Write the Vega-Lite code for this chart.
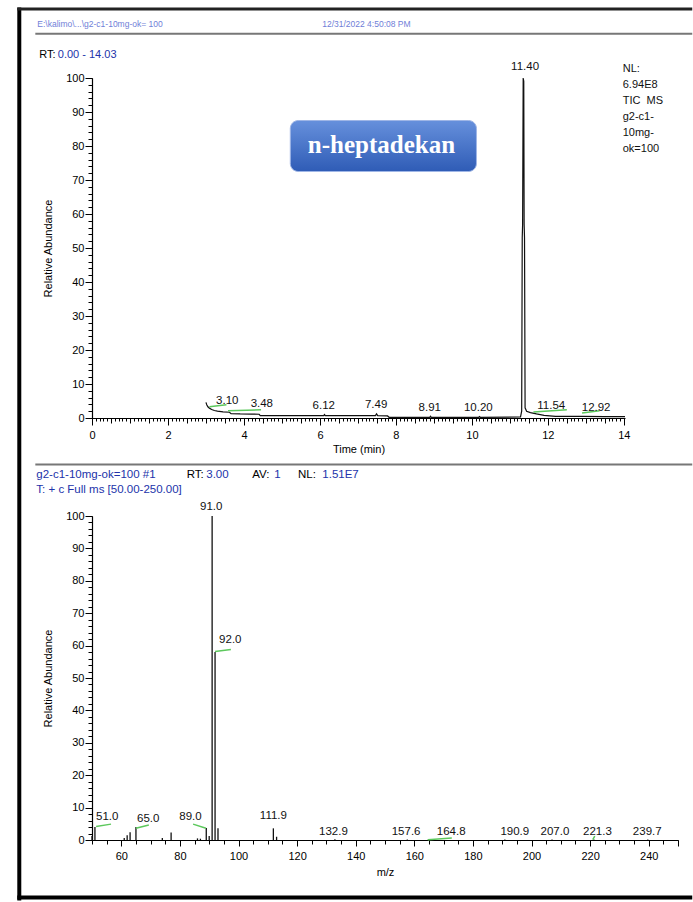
{
  "$schema": "https://vega.github.io/schema/vega-lite/v6.json",
  "background": "white",
  "padding": {"left": 15, "top": 5, "right": 0, "bottom": 1},
  "bounds": "flush",
  "spacing": 98,
  "config": {
    "view": {"stroke": null},
    "font": "Liberation Sans",
    "axis": {
      "domainColor": "#000", "tickColor": "#000", "labelColor": "#000", "titleColor": "#000",
      "labelFont": "Liberation Sans", "titleFont": "Liberation Sans",
      "labelFontSize": 11, "titleFontSize": 11, "titleFontWeight": "normal",
      "grid": false, "tickWidth": 1, "domainWidth": 1.2, "labelFlush": false
    }
  },
  "datasets": {
    "one": [{}],
    "trace": [
      {"rt": 3.00, "ab": 4.6}, {"rt": 3.02, "ab": 3.9}, {"rt": 3.05, "ab": 3.3}, {"rt": 3.09, "ab": 2.9},
      {"rt": 3.15, "ab": 2.5}, {"rt": 3.22, "ab": 2.2}, {"rt": 3.30, "ab": 2.0}, {"rt": 3.45, "ab": 1.8},
      {"rt": 3.62, "ab": 1.7}, {"rt": 3.66, "ab": 1.3}, {"rt": 3.90, "ab": 1.2}, {"rt": 4.20, "ab": 1.15},
      {"rt": 4.40, "ab": 1.1}, {"rt": 4.43, "ab": 0.7}, {"rt": 5.50, "ab": 0.7}, {"rt": 6.10, "ab": 0.7},
      {"rt": 6.12, "ab": 1.0}, {"rt": 6.14, "ab": 0.7}, {"rt": 7.46, "ab": 0.7}, {"rt": 7.49, "ab": 1.2},
      {"rt": 7.52, "ab": 0.7}, {"rt": 7.78, "ab": 0.6}, {"rt": 7.82, "ab": 0.2}, {"rt": 8.89, "ab": 0.2},
      {"rt": 8.91, "ab": 0.5}, {"rt": 8.93, "ab": 0.2}, {"rt": 10.18, "ab": 0.2}, {"rt": 10.20, "ab": 0.4},
      {"rt": 10.22, "ab": 0.2}, {"rt": 11.28, "ab": 0.3}, {"rt": 11.31, "ab": 2.0}, {"rt": 11.325, "ab": 53},
      {"rt": 11.335, "ab": 57}, {"rt": 11.35, "ab": 100}, {"rt": 11.365, "ab": 99}, {"rt": 11.375, "ab": 57},
      {"rt": 11.385, "ab": 53}, {"rt": 11.40, "ab": 3.0}, {"rt": 11.44, "ab": 2.0}, {"rt": 11.54, "ab": 1.6},
      {"rt": 11.70, "ab": 1.2}, {"rt": 11.90, "ab": 0.8}, {"rt": 12.20, "ab": 0.5}, {"rt": 12.92, "ab": 0.5},
      {"rt": 13.50, "ab": 0.4}, {"rt": 14.03, "ab": 0.4}
    ],
    "tpeaks": [
      {"rt": 3.10, "lab": "3.10", "lx": 3.56, "ly": 5.0},
      {"rt": 3.48, "lab": "3.48", "lx": 4.47, "ly": 4.0},
      {"rt": 6.12, "lab": "6.12", "lx": 6.10, "ly": 3.5},
      {"rt": 7.49, "lab": "7.49", "lx": 7.48, "ly": 3.8},
      {"rt": 8.91, "lab": "8.91", "lx": 8.89, "ly": 2.8},
      {"rt": 10.20, "lab": "10.20", "lx": 10.17, "ly": 2.8},
      {"rt": 11.40, "lab": "11.40", "lx": 11.40, "ly": 103.1},
      {"rt": 11.54, "lab": "11.54", "lx": 12.09, "ly": 3.5},
      {"rt": 12.92, "lab": "12.92", "lx": 13.27, "ly": 2.8}
    ],
    "tgreen": [
      {"x1": 3.09, "y1": 3.3, "x2": 3.54, "y2": 3.9},
      {"x1": 3.58, "y1": 2.1, "x2": 4.45, "y2": 2.4},
      {"x1": 11.62, "y1": 1.8, "x2": 12.5, "y2": 2.4},
      {"x1": 12.9, "y1": 1.5, "x2": 13.36, "y2": 2.1}
    ],
    "spec": [
      {"mz": 50.0, "ab": 1.2}, {"mz": 51.0, "ab": 4.0}, {"mz": 61.0, "ab": 0.6}, {"mz": 62.0, "ab": 1.5},
      {"mz": 63.0, "ab": 2.4}, {"mz": 65.0, "ab": 4.0}, {"mz": 74.0, "ab": 0.6}, {"mz": 77.0, "ab": 2.3},
      {"mz": 86.0, "ab": 0.5}, {"mz": 87.0, "ab": 0.4}, {"mz": 89.0, "ab": 3.7}, {"mz": 90.0, "ab": 1.2},
      {"mz": 91.0, "ab": 100}, {"mz": 92.0, "ab": 58}, {"mz": 93.0, "ab": 3.6}, {"mz": 111.9, "ab": 3.6},
      {"mz": 113.0, "ab": 1.0}, {"mz": 132.9, "ab": 0.2}, {"mz": 157.6, "ab": 0.15}, {"mz": 164.8, "ab": 0.15},
      {"mz": 190.9, "ab": 0.15}, {"mz": 207.0, "ab": 0.15}, {"mz": 221.3, "ab": 0.15}, {"mz": 239.7, "ab": 0.15}
    ],
    "speaks": [
      {"mz": 51.0, "lab": "51.0", "lx": 55.2, "ly": 7.0},
      {"mz": 65.0, "lab": "65.0", "lx": 69.2, "ly": 6.6},
      {"mz": 89.0, "lab": "89.0", "lx": 83.6, "ly": 7.0},
      {"mz": 91.0, "lab": "91.0", "lx": 90.7, "ly": 102.7},
      {"mz": 92.0, "lab": "92.0", "lx": 97.2, "ly": 61.6},
      {"mz": 111.9, "lab": "111.9", "lx": 111.9, "ly": 7.3},
      {"mz": 132.9, "lab": "132.9", "lx": 132.4, "ly": 2.4},
      {"mz": 157.6, "lab": "157.6", "lx": 157.2, "ly": 2.4},
      {"mz": 164.8, "lab": "164.8", "lx": 172.6, "ly": 2.4},
      {"mz": 190.9, "lab": "190.9", "lx": 194.3, "ly": 2.4},
      {"mz": 207.0, "lab": "207.0", "lx": 208.0, "ly": 2.4},
      {"mz": 221.3, "lab": "221.3", "lx": 222.5, "ly": 2.4},
      {"mz": 239.7, "lab": "239.7", "lx": 239.5, "ly": 2.4}
    ],
    "sgreen": [
      {"x1": 51.4, "y1": 4.2, "x2": 56.5, "y2": 4.9},
      {"x1": 65.0, "y1": 3.6, "x2": 69.4, "y2": 4.6},
      {"x1": 84.5, "y1": 4.9, "x2": 88.9, "y2": 3.6},
      {"x1": 92.0, "y1": 58.2, "x2": 97.4, "y2": 58.8},
      {"x1": 164.6, "y1": 0.1, "x2": 172.8, "y2": 0.6},
      {"x1": 220.9, "y1": 0.1, "x2": 221.6, "y2": 1.2}
    ]
  },
  "vconcat": [
    {
      "width": 533,
      "height": 340,
      "resolve": {"axis": {"x": "independent", "y": "independent"}},
      "layer": [
        {
          "data": {"name": "trace"},
          "mark": {"type": "line", "stroke": "#111", "strokeWidth": 1.2},
          "encoding": {
            "x": {"field": "rt", "type": "quantitative", "scale": {"domain": [0, 14.03], "nice": false},
              "axis": {"orient": "bottom", "values": [0, 2, 4, 6, 8, 10, 12, 14], "tickSize": 7, "labelPadding": 4, "title": "Time (min)", "titlePadding": 3}},
            "y": {"field": "ab", "type": "quantitative", "scale": {"domain": [0, 100], "nice": false},
              "axis": {"orient": "left", "values": [0, 10, 20, 30, 40, 50, 60, 70, 80, 90, 100], "tickSize": 7, "labelPadding": 1, "title": "Relative Abundance", "titlePadding": 12}}
          }
        },
        {
          "data": {"name": "tgreen"},
          "mark": {"type": "rule", "stroke": "#5cc85c", "strokeWidth": 1.5},
          "encoding": {
            "x": {"field": "x1", "type": "quantitative",
              "axis": {"orient": "bottom", "values": [0, 0.5, 1, 1.5, 2, 2.5, 3, 3.5, 4, 4.5, 5, 5.5, 6, 6.5, 7, 7.5, 8, 8.5, 9, 9.5, 10, 10.5, 11, 11.5, 12, 12.5, 13, 13.5, 14], "tickSize": 5, "labels": false, "domain": false, "title": null}},
            "x2": {"field": "x2"},
            "y": {"field": "y1", "type": "quantitative",
              "axis": {"orient": "left", "values": [0, 2, 4, 6, 8, 10, 12, 14, 16, 18, 20, 22, 24, 26, 28, 30, 32, 34, 36, 38, 40, 42, 44, 46, 48, 50, 52, 54, 56, 58, 60, 62, 64, 66, 68, 70, 72, 74, 76, 78, 80, 82, 84, 86, 88, 90, 92, 94, 96, 98, 100], "tickSize": 4, "labels": false, "domain": false, "title": null}},
            "y2": {"field": "y2"}
          }
        },
        {
          "data": {"name": "tpeaks"},
          "mark": {"type": "text", "fontSize": 11.5, "color": "#111", "baseline": "middle", "align": "center"},
          "encoding": {
            "x": {"field": "lx", "type": "quantitative",
              "axis": {"orient": "bottom", "values": [0, 0.1, 0.2, 0.3, 0.4, 0.5, 0.6, 0.7, 0.8, 0.9, 1, 1.1, 1.2, 1.3, 1.4, 1.5, 1.6, 1.7, 1.8, 1.9, 2, 2.1, 2.2, 2.3, 2.4, 2.5, 2.6, 2.7, 2.8, 2.9, 3, 3.1, 3.2, 3.3, 3.4, 3.5, 3.6, 3.7, 3.8, 3.9, 4, 4.1, 4.2, 4.3, 4.4, 4.5, 4.6, 4.7, 4.8, 4.9, 5, 5.1, 5.2, 5.3, 5.4, 5.5, 5.6, 5.7, 5.8, 5.9, 6, 6.1, 6.2, 6.3, 6.4, 6.5, 6.6, 6.7, 6.8, 6.9, 7, 7.1, 7.2, 7.3, 7.4, 7.5, 7.6, 7.7, 7.8, 7.9, 8, 8.1, 8.2, 8.3, 8.4, 8.5, 8.6, 8.7, 8.8, 8.9, 9, 9.1, 9.2, 9.3, 9.4, 9.5, 9.6, 9.7, 9.8, 9.9, 10, 10.1, 10.2, 10.3, 10.4, 10.5, 10.6, 10.7, 10.8, 10.9, 11, 11.1, 11.2, 11.3, 11.4, 11.5, 11.6, 11.7, 11.8, 11.9, 12, 12.1, 12.2, 12.3, 12.4, 12.5, 12.6, 12.7, 12.8, 12.9, 13, 13.1, 13.2, 13.3, 13.4, 13.5, 13.6, 13.7, 13.8, 13.9, 14], "tickSize": 3, "labels": false, "domain": false, "title": null}},
            "y": {"field": "ly", "type": "quantitative", "axis": null},
            "text": {"field": "lab"}
          }
        },
        {
          "data": {"name": "one"},
          "mark": {"type": "rule", "stroke": "#000", "strokeWidth": 4},
          "encoding": {"x": {"datum": -1.914, "type": "quantitative", "axis": null}, "y": {"datum": 120.7, "type": "quantitative", "axis": null}, "y2": {"datum": -141.9}}
        },
        {
          "data": {"name": "one"},
          "mark": {"type": "rule", "stroke": "#222", "strokeWidth": 3},
          "encoding": {"x": {"datum": -1.967, "type": "quantitative", "axis": null}, "x2": {"datum": 15.8}, "y": {"datum": 120.26, "type": "quantitative", "axis": null}}
        },
        {
          "data": {"name": "one"},
          "mark": {"type": "rule", "stroke": "#000", "strokeWidth": 4},
          "encoding": {"x": {"datum": -1.967, "type": "quantitative", "axis": null}, "x2": {"datum": 15.8}, "y": {"datum": -141.0, "type": "quantitative", "axis": null}}
        },
        {
          "data": {"name": "one"},
          "mark": {"type": "rule", "stroke": "#777", "strokeWidth": 2},
          "encoding": {"x": {"datum": -1.492, "type": "quantitative", "axis": null}, "x2": {"datum": 15.8}, "y": {"datum": 113.0, "type": "quantitative", "axis": null}}
        },
        {
          "data": {"name": "one"},
          "mark": {"type": "rule", "stroke": "#777", "strokeWidth": 2},
          "encoding": {"x": {"datum": -1.492, "type": "quantitative", "axis": null}, "x2": {"datum": 15.8}, "y": {"datum": -13.7, "type": "quantitative", "axis": null}}
        },
        {
          "data": {"name": "one"},
          "mark": {"type": "text", "text": "E:\\kalimo\\...\\g2-c1-10mg-ok= 100", "fontSize": 8.5, "color": "#6f80d8", "align": "left", "baseline": "middle"},
          "encoding": {"x": {"datum": -1.44, "type": "quantitative", "axis": null}, "y": {"datum": 115.8, "type": "quantitative", "axis": null}}
        },
        {
          "data": {"name": "one"},
          "mark": {"type": "text", "text": "12/31/2022 4:50:08 PM", "fontSize": 8.5, "color": "#6f80d8", "align": "left", "baseline": "middle"},
          "encoding": {"x": {"datum": 6.06, "type": "quantitative", "axis": null}, "y": {"datum": 115.8, "type": "quantitative", "axis": null}}
        },
        {
          "data": {"name": "one"},
          "mark": {"type": "text", "text": "RT:", "fontSize": 11, "color": "#000", "align": "left", "baseline": "middle"},
          "encoding": {"x": {"datum": -1.39, "type": "quantitative", "axis": null}, "y": {"datum": 106.9, "type": "quantitative", "axis": null}}
        },
        {
          "data": {"name": "one"},
          "mark": {"type": "text", "text": "0.00 - 14.03", "fontSize": 11, "color": "#2233aa", "align": "left", "baseline": "middle"},
          "encoding": {"x": {"datum": -0.9, "type": "quantitative", "axis": null}, "y": {"datum": 106.9, "type": "quantitative", "axis": null}}
        },
        {
          "data": {"name": "one"},
          "mark": {"type": "text", "text": ["NL:", "6.94E8", "TIC\u00a0\u00a0MS", "g2-c1-", "10mg-", "ok=100"], "fontSize": 11, "lineHeight": 16, "color": "#111", "align": "left", "baseline": "top"},
          "encoding": {"x": {"datum": 13.97, "type": "quantitative", "axis": null}, "y": {"datum": 104.4, "type": "quantitative", "axis": null}}
        },
        {
          "data": {"name": "one"},
          "mark": {"type": "rect", "cornerRadius": 8, "stroke": "#9fb6e6", "strokeWidth": 1,
            "fill": {"gradient": "linear", "x1": 0, "y1": 0, "x2": 0, "y2": 1, "stops": [{"offset": 0, "color": "#6690dc"}, {"offset": 1, "color": "#2f5cb6"}]}},
          "encoding": {"x": {"datum": 5.22, "type": "quantitative", "axis": null}, "x2": {"datum": 10.12}, "y": {"datum": 87.5, "type": "quantitative", "axis": null}, "y2": {"datum": 72.5}}
        },
        {
          "data": {"name": "one"},
          "mark": {"type": "text", "text": "n-heptadekan", "font": "Liberation Serif", "fontWeight": "bold", "fontSize": 25, "color": "#ffffff", "align": "center", "baseline": "middle"},
          "encoding": {"x": {"datum": 7.62, "type": "quantitative", "axis": null}, "y": {"datum": 80.2, "type": "quantitative", "axis": null}}
        }
      ]
    },
    {
      "width": 586,
      "height": 324,
      "resolve": {"axis": {"x": "independent", "y": "independent"}},
      "layer": [
        {
          "data": {"name": "spec"},
          "mark": {"type": "rule", "stroke": "#111", "strokeWidth": 1.3},
          "encoding": {
            "x": {"field": "mz", "type": "quantitative", "scale": {"domain": [50, 250], "nice": false},
              "axis": {"orient": "bottom", "values": [60, 80, 100, 120, 140, 160, 180, 200, 220, 240, 250], "labelExpr": "datum.value == 250 ? '' : datum.label", "tickSize": 6, "labelPadding": 4, "title": "m/z", "titlePadding": 5}},
            "y": {"field": "ab", "type": "quantitative", "scale": {"domain": [0, 100], "nice": false},
              "axis": {"orient": "left", "values": [0, 10, 20, 30, 40, 50, 60, 70, 80, 90, 100], "tickSize": 7, "labelPadding": 1, "title": "Relative Abundance", "titlePadding": 12}},
            "y2": {"datum": 0}
          }
        },
        {
          "data": {"name": "sgreen"},
          "mark": {"type": "rule", "stroke": "#5cc85c", "strokeWidth": 1.5},
          "encoding": {
            "x": {"field": "x1", "type": "quantitative",
              "axis": {"orient": "bottom", "values": [50, 55, 60, 65, 70, 75, 80, 85, 90, 95, 100, 105, 110, 115, 120, 125, 130, 135, 140, 145, 150, 155, 160, 165, 170, 175, 180, 185, 190, 195, 200, 205, 210, 215, 220, 225, 230, 235, 240, 245, 250], "tickSize": 4, "labels": false, "domain": false, "title": null}},
            "x2": {"field": "x2"},
            "y": {"field": "y1", "type": "quantitative",
              "axis": {"orient": "left", "values": [0, 2, 4, 6, 8, 10, 12, 14, 16, 18, 20, 22, 24, 26, 28, 30, 32, 34, 36, 38, 40, 42, 44, 46, 48, 50, 52, 54, 56, 58, 60, 62, 64, 66, 68, 70, 72, 74, 76, 78, 80, 82, 84, 86, 88, 90, 92, 94, 96, 98, 100], "tickSize": 4, "labels": false, "domain": false, "title": null}},
            "y2": {"field": "y2"}
          }
        },
        {
          "data": {"name": "speaks"},
          "mark": {"type": "text", "fontSize": 11.5, "color": "#111", "baseline": "middle", "align": "center"},
          "encoding": {
            "x": {"field": "lx", "type": "quantitative", "axis": null},
            "y": {"field": "ly", "type": "quantitative", "axis": null},
            "text": {"field": "lab"}
          }
        },
        {
          "data": {"name": "one"},
          "mark": {"type": "text", "text": "g2-c1-10mg-ok=100 #1", "fontSize": 11.5, "color": "#2233aa", "align": "left", "baseline": "middle"},
          "encoding": {"x": {"datum": 31.0, "type": "quantitative", "axis": null}, "y": {"datum": 112.6, "type": "quantitative", "axis": null}}
        },
        {
          "data": {"name": "one"},
          "mark": {"type": "text", "text": "RT:", "fontSize": 11.5, "color": "#000", "align": "left", "baseline": "middle"},
          "encoding": {"x": {"datum": 82.3, "type": "quantitative", "axis": null}, "y": {"datum": 112.6, "type": "quantitative", "axis": null}}
        },
        {
          "data": {"name": "one"},
          "mark": {"type": "text", "text": "3.00", "fontSize": 11.5, "color": "#2233aa", "align": "left", "baseline": "middle"},
          "encoding": {"x": {"datum": 89.0, "type": "quantitative", "axis": null}, "y": {"datum": 112.6, "type": "quantitative", "axis": null}}
        },
        {
          "data": {"name": "one"},
          "mark": {"type": "text", "text": "AV:", "fontSize": 11.5, "color": "#000", "align": "left", "baseline": "middle"},
          "encoding": {"x": {"datum": 104.7, "type": "quantitative", "axis": null}, "y": {"datum": 112.6, "type": "quantitative", "axis": null}}
        },
        {
          "data": {"name": "one"},
          "mark": {"type": "text", "text": "1", "fontSize": 11.5, "color": "#2233aa", "align": "left", "baseline": "middle"},
          "encoding": {"x": {"datum": 112.2, "type": "quantitative", "axis": null}, "y": {"datum": 112.6, "type": "quantitative", "axis": null}}
        },
        {
          "data": {"name": "one"},
          "mark": {"type": "text", "text": "NL:", "fontSize": 11.5, "color": "#000", "align": "left", "baseline": "middle"},
          "encoding": {"x": {"datum": 120.3, "type": "quantitative", "axis": null}, "y": {"datum": 112.6, "type": "quantitative", "axis": null}}
        },
        {
          "data": {"name": "one"},
          "mark": {"type": "text", "text": "1.51E7", "fontSize": 11.5, "color": "#2233aa", "align": "left", "baseline": "middle"},
          "encoding": {"x": {"datum": 128.6, "type": "quantitative", "axis": null}, "y": {"datum": 112.6, "type": "quantitative", "axis": null}}
        },
        {
          "data": {"name": "one"},
          "mark": {"type": "text", "text": "T: + c Full ms [50.00-250.00]", "fontSize": 11.5, "color": "#2233aa", "align": "left", "baseline": "middle"},
          "encoding": {"x": {"datum": 31.0, "type": "quantitative", "axis": null}, "y": {"datum": 107.9, "type": "quantitative", "axis": null}}
        }
      ]
    }
  ]
}
